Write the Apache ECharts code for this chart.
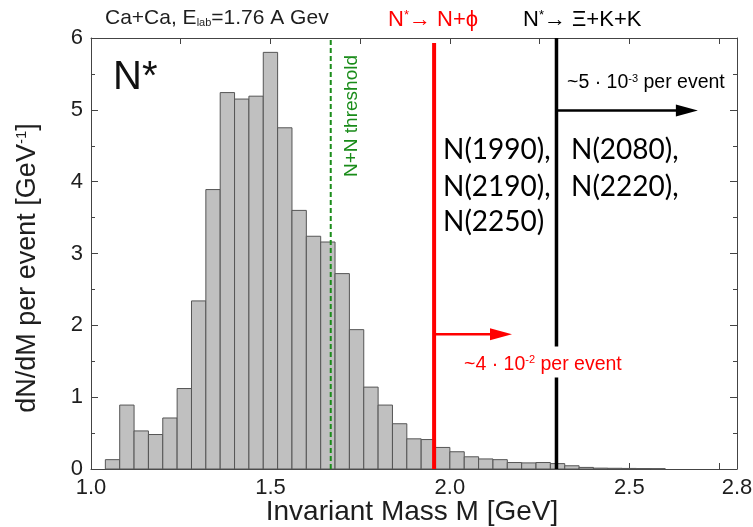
<!DOCTYPE html>
<html>
<head>
<meta charset="utf-8">
<script src="https://cdn.jsdelivr.net/npm/echarts@6/dist/echarts.min.js"></script>
<style>
  html, body { margin: 0; padding: 0; background: #fff; }
  #chart { width: 753px; height: 527px; }
</style>
</head>
<body>
<div id="chart"></div>
<script>
// N* invariant-mass spectrum in Ca+Ca collisions at 1.76 A GeV

// Histogram bins: lower edges [GeV], common width, and dN/dM per event [1/GeV]
const binLowEdges = [1.04, 1.08, 1.12, 1.16, 1.20, 1.24, 1.28, 1.32, 1.36, 1.40,
                     1.44, 1.48, 1.52, 1.56, 1.60, 1.64, 1.68, 1.72, 1.76, 1.80,
                     1.84, 1.88, 1.92, 1.96, 2.00, 2.04, 2.08, 2.12, 2.16, 2.20,
                     2.24, 2.28, 2.32, 2.36, 2.40, 2.44, 2.48, 2.52, 2.56];
const binWidth = 0.04;
const dNdM = [0.13, 0.89, 0.53, 0.48, 0.71, 1.12, 2.34, 3.89, 5.24, 5.15,
              5.19, 5.80, 4.75, 3.60, 3.24, 3.16, 2.72, 1.94, 1.14, 0.89,
              0.63, 0.42, 0.41, 0.30, 0.24, 0.17, 0.14, 0.13, 0.09, 0.085,
              0.09, 0.075, 0.045, 0.022, 0.012, 0.010, 0.008, 0.006, 0.005];

// Axis tick labels and titles
const xTickLabels = ['1.0', '1.5', '2.0', '2.5', '2.8'];
const yTickLabels = ['0', '1', '2', '3', '4', '5', '6'];
const xTitle = 'Invariant Mass M [GeV]';

// Decay thresholds [GeV] and the heights the marker lines reach
const nnThreshold = 1.668;   // N+N
const phiThreshold = 1.956;  // N* -> N + phi
const xiThreshold = 2.297;   // N* -> Xi + K + K
const thresholdLines = [
  { x: nnThreshold,  top: 6.0,  color: '#1a8c1a', width: 2,   dash: [5, 3] },
  { x: phiThreshold, top: 5.93, color: '#ff0000', width: 4,   dash: null },
  { x: xiThreshold,  top: 6.0,  color: '#000000', width: 3.5, dash: null }
];

// Horizontal arrows: [from, to, height]
const phiArrow = [phiThreshold, 2.173, 1.875];
const xiArrow = [xiThreshold, 2.691, 4.99];

const FONT = 'Liberation Sans, Arial, sans-serif';
const NOTE_FONT = 'Lato, sans-serif';
const AXIS_COLOR = '#444';
const TEXT_COLOR = '#1e1e1e';

const chart = echarts.init(document.getElementById('chart'), null, { renderer: 'canvas' });

function xLabel(v) {
  const hit = xTickLabels.find(t => Math.abs(parseFloat(t) - v) < 1e-6);
  return hit || '';
}
function yLabel(v) {
  const hit = yTickLabels.find(t => Math.abs(parseFloat(t) - v) < 1e-6);
  return hit || '';
}

const baseX = {
  type: 'value', min: 1.0, max: 2.8, interval: 0.25,
  axisLine: { show: true, onZero: false, lineStyle: { color: AXIS_COLOR, width: 1 } },
  axisTick: { show: true, inside: true, length: 6, lineStyle: { color: AXIS_COLOR } },
  splitLine: { show: false }
};
const baseY = {
  type: 'value', min: 0, max: 6, interval: 1,
  axisLine: { show: true, onZero: false, lineStyle: { color: AXIS_COLOR, width: 1 } },
  axisTick: { show: true, inside: true, length: 7, lineStyle: { color: AXIS_COLOR } },
  minorTick: { show: true, splitNumber: 2, length: 4, lineStyle: { color: AXIS_COLOR } },
  splitLine: { show: false }
};

function arrowItem(color) {
  return function (params, api) {
    const a = api.coord([api.value(0), api.value(2)]);
    const b = api.coord([api.value(1), api.value(2)]);
    const head = 22, half = 6;
    return {
      type: 'group',
      children: [
        { type: 'line', shape: { x1: a[0], y1: a[1], x2: b[0] - head + 2, y2: b[1] },
          style: { stroke: color, lineWidth: 2.5 } },
        { type: 'polygon', shape: { points: [[b[0], b[1]], [b[0] - head, b[1] - half], [b[0] - head, b[1] + half]] },
          style: { fill: color } }
      ]
    };
  };
}

function supText(x, y, body, sup, tail, size, color, extra) {
  return {
    type: 'text', x: x, y: y, z: 100,
    style: Object.assign({
      text: '{t|' + body + '}{s|' + sup + '}{t|' + tail + '}', verticalAlign: 'middle',
      rich: {
        t: { fontSize: size, fontFamily: FONT, fill: color },
        s: { fontSize: Math.round(size * 0.58), fontFamily: FONT, fill: color,
             verticalAlign: 'top', lineHeight: Math.round(size * 0.58) }
      }
    }, extra || {})
  };
}

function noteText(x, y, text) {
  return { type: 'text', x: x, y: y, z: 100,
           style: { text: text, fontSize: 28, fontFamily: NOTE_FONT, fill: '#000', verticalAlign: 'middle' } };
}

const option = {
  animation: false,
  backgroundColor: '#fff',
  grid: { left: 91, right: 16, top: 38, bottom: 58, containLabel: false, outerBoundsMode: 'none' },
  xAxis: [
    Object.assign({}, baseX, {
      position: 'bottom',
      axisLabel: { show: true, formatter: xLabel, showMaxLabel: true, showMinLabel: true,
                   fontSize: 22, color: TEXT_COLOR, fontFamily: FONT, margin: 8 }
    }),
    Object.assign({}, baseX, { position: 'top', axisLabel: { show: false } })
  ],
  yAxis: [
    Object.assign({}, baseY, {
      position: 'left',
      axisLabel: { show: true, formatter: yLabel, fontSize: 22, color: TEXT_COLOR, fontFamily: FONT, margin: 8 }
    }),
    Object.assign({}, baseY, { position: 'right', axisLabel: { show: false } })
  ],
  series: [
    {
      name: 'N*',
      type: 'custom',
      xAxisIndex: 0, yAxisIndex: 0,
      data: binLowEdges.map((lo, i) => [lo, lo + binWidth, dNdM[i]]),
      encode: { x: [0, 1], y: 2 },
      z: 2,
      renderItem: function (params, api) {
        const p0 = api.coord([api.value(0), api.value(2)]);
        const p1 = api.coord([api.value(1), 0]);
        return {
          type: 'rect',
          shape: { x: p0[0], y: p0[1], width: p1[0] - p0[0], height: p1[1] - p0[1] },
          style: { fill: '#c0c0c0', stroke: '#555', lineWidth: 1 }
        };
      }
    },
    {
      name: 'thresholds',
      type: 'custom',
      z: 3,
      data: thresholdLines.map((t, i) => [t.x, t.top, i]),
      encode: { x: 0, y: 1 },
      renderItem: function (params, api) {
        const cfg = thresholdLines[api.value(2)];
        const bottom = api.coord([api.value(0), 0]);
        const top = api.coord([api.value(0), api.value(1)]);
        return {
          type: 'line',
          shape: { x1: bottom[0], y1: bottom[1], x2: top[0], y2: top[1] },
          style: { stroke: cfg.color, lineWidth: cfg.width, lineDash: cfg.dash }
        };
      }
    },
    {
      name: 'phi arrow', type: 'custom', z: 3,
      data: [phiArrow], encode: { x: [0, 1], y: 2 },
      renderItem: arrowItem('#ff0000')
    },
    {
      name: 'xi arrow', type: 'custom', z: 3,
      data: [xiArrow], encode: { x: [0, 1], y: 2 },
      renderItem: arrowItem('#000000')
    }
  ],
  graphic: [
    // axis titles
    { type: 'text', x: 412, y: 512, z: 100,
      style: { text: xTitle, fontSize: 28, fontFamily: FONT, fill: TEXT_COLOR,
               align: 'center', verticalAlign: 'middle' } },
    { type: 'text', x: 28, y: 268, rotation: Math.PI / 2, z: 100,
      style: {
        text: '{t|dN/dM per event [GeV}{s|-1}{t|]}', align: 'center', verticalAlign: 'middle',
        rich: {
          t: { fontSize: 27, fontFamily: FONT, fill: TEXT_COLOR },
          s: { fontSize: 15, fontFamily: FONT, fill: TEXT_COLOR, verticalAlign: 'top', lineHeight: 15 }
        }
      } },
    { type: 'text', left: 113, top: 58, z: 100,
      style: { text: 'N*', fontSize: 40, fontFamily: FONT, fill: '#111' } },
    { type: 'text', x: 352, y: 116, rotation: Math.PI / 2, z: 100,
      style: { text: 'N+N threshold', fontSize: 19, fontFamily: FONT, fill: '#1a8c1a',
               align: 'center', verticalAlign: 'middle' } },
    // captions above the frame
    { type: 'text', x: 105, y: 18, z: 100,
      style: {
        text: '{t|Ca+Ca, E}{b|lab}{t|=1.76 A Gev}', verticalAlign: 'middle',
        rich: {
          t: { fontSize: 21, fontFamily: FONT, fill: TEXT_COLOR },
          b: { fontSize: 11, fontFamily: FONT, fill: TEXT_COLOR, verticalAlign: 'bottom', lineHeight: 11 }
        }
      } },
    supText(388, 20, 'N', '*', '\u2192 N+\u03D5', 22, '#ff0000'),
    supText(523, 20, 'N', '*', '\u2192 \u039E+K+K', 22, '#000'),
    // yield notes by the arrows
    supText(567, 83, '~5 \u00B7 10', '-3', ' per event', 19.5, '#000'),
    supText(462, 362, '~4 \u00B7 10', '-2', ' per event', 19.5, '#ff0000',
            { backgroundColor: '#fff', padding: [8, 2, 3, 2] }),
    // resonance list
    noteText(443, 150, 'N(1990),'),
    noteText(571, 150, 'N(2080),'),
    noteText(443, 187, 'N(2190),'),
    noteText(571, 187, 'N(2220),'),
    noteText(443, 222, 'N(2250)')
  ]
};

chart.setOption(option);
</script>
</body>
</html>
